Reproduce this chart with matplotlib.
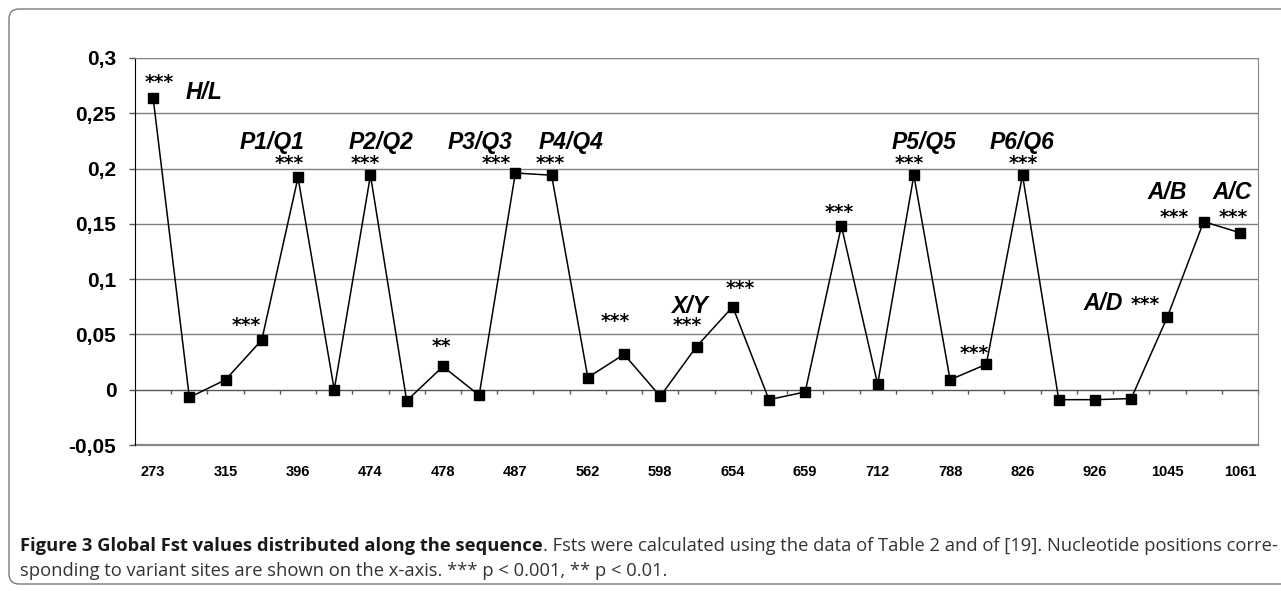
import matplotlib
matplotlib.use("Agg")
from matplotlib import pyplot as plt
from matplotlib.patches import FancyBboxPatch
from matplotlib.ticker import FuncFormatter
import numpy as np

# Fst value at each variant site (31 sites, every 2nd one labelled)
fst = [0.264, -0.007, 0.009, 0.045, 0.192, 0.000, 0.194, -0.010, 0.021, -0.005,
       0.196, 0.194, 0.011, 0.032, -0.006, 0.039, 0.075, -0.009, -0.002, 0.148,
       0.005, 0.194, 0.009, 0.023, 0.194, -0.009, -0.009, -0.008, 0.066, 0.152,
       0.142]
tick_labels = ['273', '315', '396', '474', '478', '487', '562', '598', '654',
               '659', '712', '788', '826', '926', '1045', '1061']

# pair names and significance stars (text, x in category units, y)
pair_names = [('H/L', 1.41, 0.269), ('P1/Q1', 3.29, 0.224), ('P2/Q2', 6.30, 0.224),
              ('P3/Q3', 9.02, 0.224), ('P4/Q4', 11.55, 0.224), ('X/Y', 14.81, 0.075),
              ('P5/Q5', 21.27, 0.224), ('P6/Q6', 23.98, 0.224), ('A/D', 26.22, 0.0777),
              ('A/B', 27.98, 0.178), ('A/C', 29.78, 0.178)]
stars = [('***', 0.17, 0.278), ('***', 3.76, 0.205), ('***', 5.86, 0.205),
         ('***', 9.48, 0.205), ('***', 10.97, 0.205), ('***', 2.57, 0.058),
         ('**', 7.96, 0.039), ('***', 12.76, 0.0615), ('***', 14.75, 0.058),
         ('***', 16.22, 0.0913), ('***', 18.95, 0.160), ('***', 20.86, 0.205),
         ('***', 22.68, 0.0325), ('***', 24.03, 0.205), ('***', 27.40, 0.0768),
         ('***', 28.2, 0.156), ('***', 29.83, 0.156)]

W, H = 1281, 591
fig = plt.figure(figsize=(W / 100, H / 100), dpi=100)
fig.patch.set_facecolor('white')

# rounded frame around the whole figure (open on the right side)
frame = FancyBboxPatch((9, 7), 1300, 575, boxstyle="round,pad=0,rounding_size=10",
                       transform=None, fill=False, edgecolor='#7a7a7a', linewidth=1.0)
fig.add_artist(frame)

ax = fig.add_axes([135 / W, 1 - 445 / H, (1258 - 135) / W, (445 - 58) / H])
x = np.arange(len(fst))
ax.plot(x, fst, color='black', linewidth=1.1, marker='s', markersize=6.5,
        markerfacecolor='black', markeredgecolor='black', zorder=5)

ax.set_xlim(-0.5, len(fst) - 0.5)
ax.set_ylim(-0.05, 0.3)

yt = np.arange(-0.05, 0.301, 0.05)
ax.set_yticks(yt)
ax.yaxis.set_major_formatter(FuncFormatter(lambda v, p: ('%g' % round(v, 3)).replace('.', ',')))
ax.yaxis.grid(True, color='#7f7f7f', linewidth=1.0)
ax.set_axisbelow(True)
ax.tick_params(axis='y', direction='out', length=4.5, width=1, pad=9,
               labelsize=15, color='#555555')
for lab in ax.get_yticklabels():
    lab.set_fontweight('bold')
    lab.set_family('Liberation Sans')

# category axis crosses at zero, labels stay at the bottom
ax.spines['bottom'].set_position(('data', 0))
ax.spines['bottom'].set_color('#555555')
ax.spines['left'].set_color('black')
ax.spines['top'].set_color('#888888')
ax.spines['right'].set_color('#888888')
ax.axhline(-0.05, color='#888888', linewidth=1.6, clip_on=False)

ax.set_xticks(x[::2])
ax.set_xticklabels(tick_labels)
ax.set_xticks(np.arange(0.5, len(fst), 1.0), minor=True)
ax.tick_params(axis='x', which='major', length=0, pad=54, labelsize=10.5)
ax.tick_params(axis='x', which='minor', direction='out', length=3, width=1, color='#555555')
for lab in ax.get_xticklabels():
    lab.set_fontweight('bold')
    lab.set_family('Liberation Sans')

for txt, px, py in pair_names:
    ax.text(px, py, txt, ha='center', va='center', fontsize=16.5, fontweight='bold',
            fontstyle='italic', family='Liberation Sans')
for txt, px, py in stars:
    ax.text(px, py, txt, ha='center', va='center', fontsize=13.5, fontweight='bold',
            family='DejaVu Sans')

# caption below the chart
cap_bold = 'Figure 3 Global Fst values distributed along the sequence'
cap_rest = '. Fsts were calculated using the data of Table 2 and of [19]. Nucleotide positions corre-'
cap_line2 = 'sponding to variant sites are shown on the x-axis. *** p < 0.001, ** p < 0.01.'
cfont = 'Open Sans'
csize = 13.2
t1 = fig.text(20 / W, 1 - 546 / H, cap_bold, fontsize=csize, fontweight='bold',
              family=cfont, color='#1a1a1a', va='center', ha='left')
fig.canvas.draw()
r = fig.canvas.get_renderer()
bb = t1.get_window_extent(r)
fig.text(bb.x1 / W, 1 - 546 / H, cap_rest, fontsize=csize, family=cfont,
         color='#333333', va='center', ha='left')
fig.text(20 / W, 1 - 571 / H, cap_line2, fontsize=csize, family=cfont,
         color='#333333', va='center', ha='left')

fig.savefig('out.png', dpi=100)
